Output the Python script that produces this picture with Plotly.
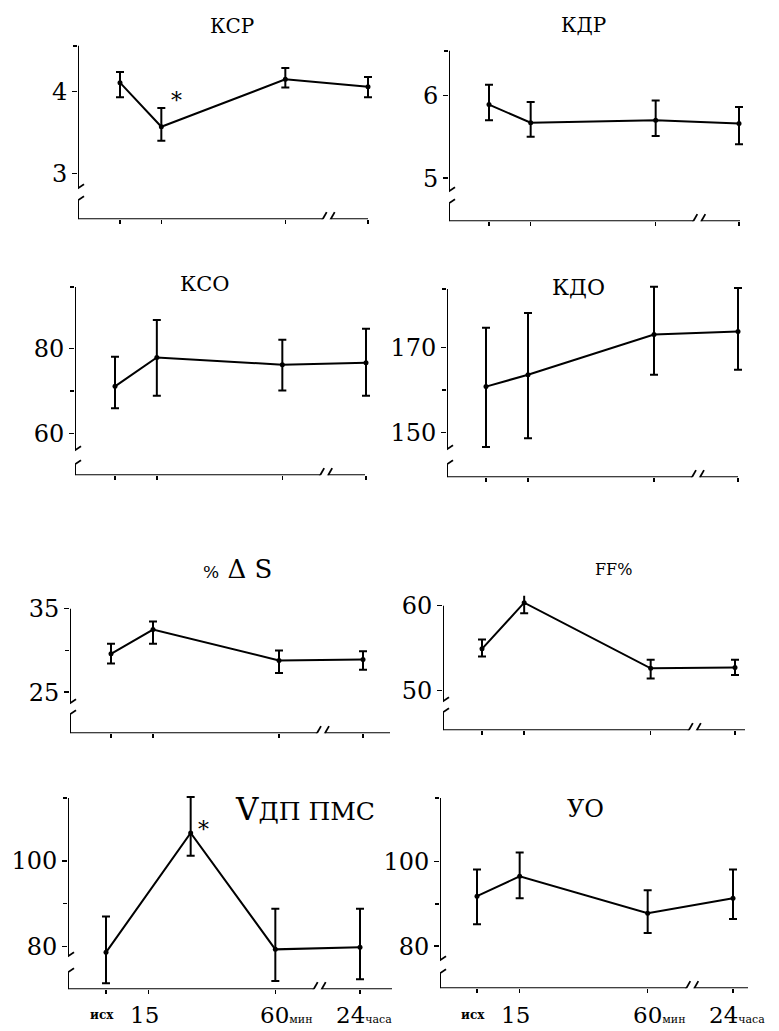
import plotly.graph_objects as go

W, H = 779, 1031

# ---------------- data ----------------
# time points: исх, 15 мин, 60 мин, 24 часа (axis has a break between 60 мин and 24 часа)
tick_x = [0, 1, 4, 6]
x_time = [0, 1, 4, 6]
x_vdp = [0, 2, 4, 6]

ksr_mean = [4.11, 3.57, 4.15, 4.06]
ksr_up   = [4.24, 3.80, 4.29, 4.18]
ksr_lo   = [3.93, 3.40, 4.05, 3.93]

kdr_mean = [5.89, 5.67, 5.70, 5.66]
kdr_up   = [6.13, 5.92, 5.94, 5.86]
kdr_lo   = [5.70, 5.50, 5.51, 5.41]

kso_mean = [71.1, 77.9, 76.2, 76.7]
kso_up   = [78.1, 86.8, 82.1, 84.7]
kso_lo   = [65.9, 68.9, 70.1, 68.9]

kdo_mean = [160.8, 163.6, 173.1, 173.8]
kdo_up   = [174.7, 178.2, 184.4, 184.1]
kdo_lo   = [146.5, 148.6, 163.6, 164.8]

ds_mean = [29.6, 32.5, 28.8, 28.9]
ds_up   = [30.8, 33.45, 30.0, 29.9]
ds_lo   = [28.45, 30.8, 27.3, 27.7]

ff_mean = [54.9, 60.35, 52.6, 52.7]
ff_up   = [56.0, 61.9, 53.6, 53.6]
ff_lo   = [54.0, 59.1, 51.4, 51.8]

vdp_mean = [78.6, 106.5, 79.3, 79.8]
vdp_up   = [87.0, 114.9, 88.8, 88.8]
vdp_lo   = [71.4, 101.2, 71.9, 72.3]

uo_mean = [91.8, 96.5, 87.8, 91.3]
uo_up   = [98.1, 102.1, 93.2, 98.1]
uo_lo   = [85.2, 91.3, 83.1, 86.4]

titles = ["КСР", "КДР", "КСО", "КДО",
          "<span style='font-size:17px'>%</span> Δ S", "FF%",
          "V<span style='font-size:25px'>ДП ПМС</span>", "УО"]
y_ticks = [[3, 4], [5, 6], [60, 80], [150, 170], [25, 35], [50, 60], [80, 100], [80, 100]]
y_minor = [[], [], [70], [160], [30], [], [90], [90]]
x_labels = ["исх", "15", "60", "24"]
x_units = ["", "", "мин", "часа"]

series = [
    (x_time, ksr_mean, ksr_up, ksr_lo),
    (x_time, kdr_mean, kdr_up, kdr_lo),
    (x_time, kso_mean, kso_up, kso_lo),
    (x_time, kdo_mean, kdo_up, kdo_lo),
    (x_time, ds_mean, ds_up, ds_lo),
    (x_time, ff_mean, ff_up, ff_lo),
    (x_vdp, vdp_mean, vdp_up, vdp_lo),
    (x_time, uo_mean, uo_up, uo_lo),
]

# ---------------- layout (pixels) ----------------
geo = [
    dict(axis=78, first=120, last=368, end=368, top=42, bottom=216, yr=[2.44, 4.56], brk=(185, 197),
         title=(232, 22, 20), star=(176, 97)),
    dict(axis=449, first=489, last=739, end=740, top=47, bottom=218, yr=[4.48, 6.54], brk=(188, 200),
         title=(583, 21, 20), star=None),
    dict(axis=75, first=115, last=366, end=365, top=284, bottom=473, yr=[50.1, 94.6], brk=(448, 462),
         title=(205, 281, 21), star=None),
    dict(axis=447, first=486, last=738, end=738, top=286, bottom=475, yr=[139.4, 183.9], brk=(447, 462),
         title=(578, 285, 22), star=None),
    dict(axis=70, first=111, last=363, end=390, top=607, bottom=732, yr=[20.1, 35.0], brk=(702, 713),
         title=(238, 567, 26), star=None),
    dict(axis=443, first=482, last=735, end=745, top=604, bottom=729, yr=[45.3, 60.0], brk=(700, 711),
         title=(613, 568, 16), star=None),
    dict(axis=68, first=106, last=360, end=392, top=797, bottom=989, yr=[70.0, 114.7], brk=(956, 972),
         title=(305, 808, 31), star=(203, 829)),
    dict(axis=440, first=477, last=733, end=748, top=797, bottom=988, yr=[70.1, 115.0], brk=(960, 973),
         title=(585, 808, 24), star=None),
]

SERIF = "DejaVu Serif"
fig = go.Figure()
shapes, annotations = [], []
layout = {}

for i, (g, (xs, mean, up, lo)) in enumerate(zip(geo, series), start=1):
    sfx = "" if i == 1 else str(i)
    xa, ya = "x" + sfx, "y" + sfx
    pxu = (g["last"] - g["first"]) / 6.0
    x0 = (g["axis"] - g["first"]) / pxu
    xend = (g["end"] - g["first"]) / pxu
    xright = max(xend, 6) + 10 / pxu
    ymin, ytop = g["yr"]
    pxv = (g["bottom"] - g["top"]) / (ytop - ymin)
    pad = 10
    yrtop = ytop + pad / pxv
    right_px = g["first"] + xright * pxu

    def yv(px):
        return ymin + (g["bottom"] - px) / pxv

    fig.add_trace(go.Scatter(
        x=xs, y=mean, mode="lines+markers", xaxis=xa, yaxis=ya, showlegend=False,
        hoverinfo="skip", cliponaxis=False,
        line=dict(color="black", width=2),
        marker=dict(color="black", size=5),
        error_y=dict(type="data", symmetric=False,
                     array=[u - m for u, m in zip(up, mean)],
                     arrayminus=[m - l for m, l in zip(mean, lo)],
                     color="black", thickness=2, width=4),
    ))

    layout["xaxis" + sfx] = dict(
        domain=[g["axis"] / W, right_px / W], range=[x0, xright], anchor=ya,
        showgrid=False, zeroline=False, showline=False,
        tickvals=tick_x, ticks="outside", ticklen=4, tickwidth=1.5, tickcolor="black",
        showticklabels=False, fixedrange=True)
    layout["yaxis" + sfx] = dict(
        domain=[1 - g["bottom"] / H, 1 - (g["top"] - pad) / H], range=[ymin, yrtop], anchor=xa,
        showgrid=False, zeroline=False, showline=False,
        tickvals=y_ticks[i - 1], ticks="outside", ticklen=5, tickwidth=1.5, tickcolor="black",
        tickfont=dict(family=SERIF, size=24, color="black"),
        minor=dict(tickvals=y_minor[i - 1] + ([ytop] if ytop not in y_ticks[i - 1] else []),
                   ticks="outside", ticklen=4, tickwidth=1.5, tickcolor="black"),
        fixedrange=True)

    ln = dict(color="black", width=2)
    bhi, blo = yv(g["brk"][0]), yv(g["brk"][1])
    shapes.append(dict(type="line", xref=xa, yref=ya, x0=x0, x1=x0, y0=bhi, y1=ytop, line=ln))
    shapes.append(dict(type="line", xref=xa, yref=ya, x0=x0, x1=x0, y0=ymin, y1=blo, line=ln))
    for yb in (bhi, blo):
        shapes.append(dict(type="line", xref=xa, yref=ya, xsizemode="pixel", ysizemode="pixel",
                           xanchor=x0, yanchor=yb, x0=-6, x1=6, y0=-4, y1=4,
                           line=dict(color="black", width=1.8)))
    gap = 4 / pxu
    shapes.append(dict(type="line", xref=xa, yref=ya, x0=x0, x1=5 - gap, y0=ymin, y1=ymin, line=ln))
    shapes.append(dict(type="line", xref=xa, yref=ya, x0=5 + gap, x1=xend, y0=ymin, y1=ymin, line=ln))
    for xb in (5 - gap, 5 + gap):
        shapes.append(dict(type="line", xref=xa, yref=ya, xsizemode="pixel", ysizemode="pixel",
                           xanchor=xb, yanchor=ymin, x0=-4, x1=4, y0=-7, y1=7,
                           line=dict(color="black", width=1.8)))

    tx, ty, ts = g["title"]
    annotations.append(dict(text=titles[i - 1], xref="paper", yref="paper", x=tx / W, y=1 - ty / H,
                            xanchor="center", yanchor="middle", showarrow=False,
                            font=dict(family=SERIF, size=ts, color="black")))
    if g["star"]:
        sx, sy = g["star"]
        annotations.append(dict(text="*", xref="paper", yref="paper", x=sx / W, y=1 - sy / H,
                                xanchor="center", yanchor="middle", showarrow=False,
                                font=dict(family=SERIF, size=22, color="black")))
    if i in (7, 8):
        for k, (tv, lab, unit) in enumerate(zip(tick_x, x_labels, x_units)):
            if k == 0:
                txt, anchor, shift, size = "<b>" + lab + "</b>", "center", -4, 12
            elif k == 1:
                txt, anchor, shift, size = lab, "center", -4, 23
            else:
                txt = f"{lab}<span style='font-size:11px'>{unit}</span>"
                anchor, size = "left", 23
                shift = -17 if k == 2 else -26
            annotations.append(dict(text=txt, xref=xa, yref="paper",
                                    x=tv, y=1 - 1015 / H, xanchor=anchor, yanchor="middle",
                                    xshift=shift, showarrow=False,
                                    font=dict(family=SERIF, size=size, color="black")))

fig.update_layout(
    width=W, height=H, margin=dict(l=0, r=0, t=0, b=0),
    paper_bgcolor="white", plot_bgcolor="white",
    shapes=shapes, annotations=annotations, showlegend=False,
    **layout)

fig.write_html("out.html", config={"displayModeBar": False, "staticPlot": True},
               post_script="document.body.style.margin='0';document.body.style.padding='0';")
